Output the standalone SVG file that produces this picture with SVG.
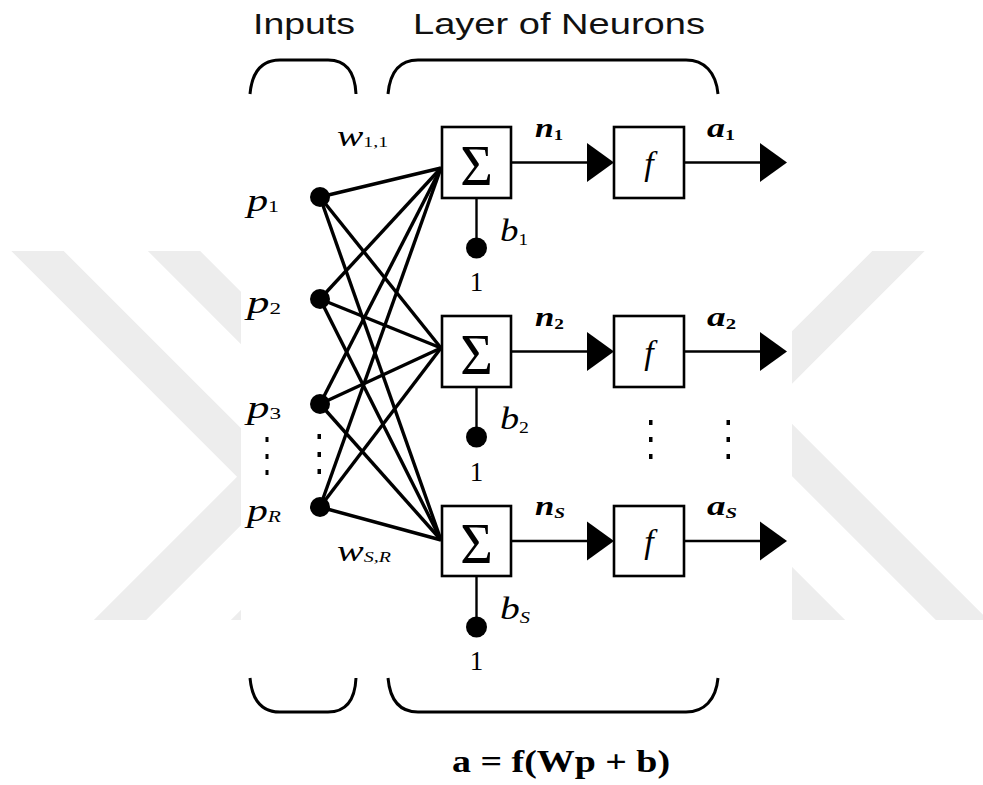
<svg xmlns="http://www.w3.org/2000/svg" width="983" height="785" viewBox="0 0 983 785">
<style>
.wm{stroke:#ededed;stroke-width:37;fill:none}
.box{fill:#fff;stroke:#000;stroke-width:2.6}
.br{fill:none;stroke:#000;stroke-width:3}
.w{stroke:#000;stroke-width:3.4;fill:none}
.ln{stroke:#000;stroke-width:2.4;fill:none}
.hd{font-family:"Liberation Sans",Arial,sans-serif;font-size:29px;fill:#111}
.it{font-family:"Liberation Serif","Times New Roman",serif;font-style:italic;fill:#000}
.bi{font-family:"Liberation Serif","Times New Roman",serif;font-style:italic;font-weight:bold;fill:#000}
.sg{font-family:"Liberation Serif","Times New Roman",serif;font-size:56px;fill:#000}
.one{font-family:"Liberation Serif","Times New Roman",serif;font-size:27px;fill:#000}
.fm{font-family:"Liberation Serif","Times New Roman",serif;font-weight:bold;font-size:31px;fill:#000}
</style>
<defs>
<clipPath id="wmclip"><rect x="0" y="251" width="983" height="369"/></clipPath>
<path id="ah" d="M0,-19.5 L27,0 L0,19.5 Z" fill="#000"/>
</defs>
<rect width="983" height="785" fill="#fff"/>
<g id="watermark" clip-path="url(#wmclip)">
<line class="wm" x1="-50" y1="163.5" x2="300" y2="513.5"/>
<line class="wm" x1="-50" y1="27" x2="300" y2="377"/>
<line class="wm" x1="0" y1="740" x2="300" y2="440"/>
<line class="wm" x1="0" y1="877" x2="300" y2="577"/>
<line class="wm" x1="700" y1="449.5" x2="1050" y2="99.5"/>
<line class="wm" x1="700" y1="358" x2="1050" y2="708"/>
<line class="wm" x1="700" y1="501" x2="1050" y2="851"/>
</g>
<rect x="241" y="230" width="551" height="400" fill="#fff"/>
<g id="headers">
<text class="hd" x="253" y="34" textLength="102" lengthAdjust="spacingAndGlyphs">Inputs</text>
<text class="hd" x="413" y="34" textLength="292" lengthAdjust="spacingAndGlyphs">Layer of Neurons</text>
<path class="br" d="M250,94 C252,72 262,60 280,60 L328,60 C346,60 355,72 356,94"/>
<path class="br" d="M388,94 C390,72 400,60 418,60 L686,60 C704,60 716,72 718,94"/>
<path class="br" d="M250,678 C252,700 262,712 280,712 L328,712 C346,712 355,700 356,678"/>
<path class="br" d="M388,678 C390,700 400,712 418,712 L686,712 C704,712 716,700 718,678"/>
</g>
<g id="connectors">
<line class="w" x1="320" y1="197" x2="441" y2="168"/>
<line class="w" x1="320" y1="197" x2="441" y2="348"/>
<line class="w" x1="320" y1="197" x2="441" y2="540"/>
<line class="w" x1="320" y1="299" x2="441" y2="168"/>
<line class="w" x1="320" y1="299" x2="441" y2="348"/>
<line class="w" x1="320" y1="299" x2="441" y2="540"/>
<line class="w" x1="320" y1="404" x2="441" y2="168"/>
<line class="w" x1="320" y1="404" x2="441" y2="348"/>
<line class="w" x1="320" y1="404" x2="441" y2="540"/>
<line class="w" x1="320" y1="507" x2="441" y2="168"/>
<line class="w" x1="320" y1="507" x2="441" y2="348"/>
<line class="w" x1="320" y1="507" x2="441" y2="540"/>
<line class="ln" x1="476.5" y1="198" x2="476.5" y2="248"/>
<line class="ln" x1="476.5" y1="387" x2="476.5" y2="437"/>
<line class="ln" x1="476.5" y1="576" x2="476.5" y2="627"/>
<line class="ln" x1="511" y1="162.5" x2="590" y2="162.5"/>
<line class="ln" x1="511" y1="351.5" x2="590" y2="351.5"/>
<line class="ln" x1="511" y1="541" x2="590" y2="541"/>
<use href="#ah" x="587" y="162.5"/>
<use href="#ah" x="587" y="351.5"/>
<use href="#ah" x="587" y="541"/>
<line class="ln" x1="684" y1="162.5" x2="762" y2="162.5"/>
<line class="ln" x1="684" y1="351.5" x2="762" y2="351.5"/>
<line class="ln" x1="684" y1="541" x2="762" y2="541"/>
<use href="#ah" x="760" y="162.5"/>
<use href="#ah" x="760" y="351.5"/>
<use href="#ah" x="760" y="541"/>
</g>
<g id="inputs">
<circle cx="320" cy="197" r="10"/>
<circle cx="320" cy="299" r="10"/>
<circle cx="320" cy="404" r="10"/>
<circle cx="320" cy="507" r="10"/>
<text class="it" x="247" y="211" font-size="31" textLength="32" lengthAdjust="spacingAndGlyphs">p<tspan font-size="16" dy="1" font-style="normal">1</tspan></text>
<text class="it" x="247" y="313" font-size="31" textLength="34" lengthAdjust="spacingAndGlyphs">p<tspan font-size="16" dy="1" font-style="normal">2</tspan></text>
<text class="it" x="247" y="418" font-size="31" textLength="34" lengthAdjust="spacingAndGlyphs">p<tspan font-size="16" dy="1" font-style="normal">3</tspan></text>
<text class="it" x="247" y="521" font-size="31" textLength="34" lengthAdjust="spacingAndGlyphs">p<tspan font-size="16" dy="1">R</tspan></text>
<g fill="#000">
<rect x="265.5" y="437" width="3" height="5"/><rect x="265.5" y="454" width="3" height="5"/><rect x="265.5" y="470" width="3" height="5"/>
<rect x="317.5" y="434" width="3.5" height="5"/><rect x="317.5" y="452" width="3.5" height="5"/><rect x="317.5" y="469" width="3.5" height="5"/>
</g>
<text class="it" x="337" y="146" font-size="30" textLength="51" lengthAdjust="spacingAndGlyphs">w<tspan font-size="15" dy="1" font-style="normal">1,1</tspan></text>
<text class="it" x="337" y="561" font-size="30" textLength="54" lengthAdjust="spacingAndGlyphs">w<tspan font-size="15" dy="1">S,R</tspan></text>
</g>
<g id="neuron1">
<rect class="box" x="442" y="127" width="69" height="71"/>
<text class="sg" x="476.5" y="185" text-anchor="middle">Σ</text>
<circle cx="476.5" cy="248" r="10.5"/>
<text class="one" x="476.5" y="291" text-anchor="middle">1</text>
<text class="it" x="500" y="241" font-size="31" textLength="28" lengthAdjust="spacingAndGlyphs">b<tspan font-size="16" dy="4" font-style="normal">1</tspan></text>
<text class="bi" x="535" y="137" font-size="27" textLength="28" lengthAdjust="spacingAndGlyphs">n<tspan font-size="15" dy="3" font-style="normal">1</tspan></text>
<rect class="box" x="614" y="127" width="70" height="71"/>
<text class="it" x="649" y="175" font-size="34" text-anchor="middle">f</text>
<text class="bi" x="707" y="137" font-size="27" textLength="28" lengthAdjust="spacingAndGlyphs">a<tspan font-size="15" dy="3" font-style="normal">1</tspan></text>
</g>
<g id="neuron2">
<rect class="box" x="442" y="316" width="69" height="71"/>
<text class="sg" x="476.5" y="374" text-anchor="middle">Σ</text>
<circle cx="476.5" cy="437" r="10.5"/>
<text class="one" x="476.5" y="481" text-anchor="middle">1</text>
<text class="it" x="500" y="429" font-size="31" textLength="29" lengthAdjust="spacingAndGlyphs">b<tspan font-size="16" dy="4" font-style="normal">2</tspan></text>
<text class="bi" x="535" y="326" font-size="27" textLength="29" lengthAdjust="spacingAndGlyphs">n<tspan font-size="15" dy="3" font-style="normal">2</tspan></text>
<rect class="box" x="614" y="316" width="70" height="71"/>
<text class="it" x="649" y="364" font-size="34" text-anchor="middle">f</text>
<text class="bi" x="707" y="326" font-size="27" textLength="29" lengthAdjust="spacingAndGlyphs">a<tspan font-size="15" dy="3" font-style="normal">2</tspan></text>
<g fill="#000">
<rect x="649" y="420" width="3.5" height="5"/><rect x="649" y="437" width="3.5" height="5"/><rect x="649" y="454" width="3.5" height="5"/>
<rect x="726.5" y="420" width="3.5" height="5"/><rect x="726.5" y="437" width="3.5" height="5"/><rect x="726.5" y="454" width="3.5" height="5"/>
</g>
</g>
<g id="neuron3">
<rect class="box" x="442" y="506" width="69" height="70"/>
<text class="sg" x="476.5" y="563" text-anchor="middle">Σ</text>
<circle cx="476.5" cy="627" r="10.5"/>
<text class="one" x="476.5" y="670" text-anchor="middle">1</text>
<text class="it" x="500" y="619" font-size="31" textLength="30" lengthAdjust="spacingAndGlyphs">b<tspan font-size="16" dy="4">S</tspan></text>
<text class="bi" x="535" y="515" font-size="27" textLength="30" lengthAdjust="spacingAndGlyphs">n<tspan font-size="15" dy="3">S</tspan></text>
<rect class="box" x="614" y="506" width="70" height="70"/>
<text class="it" x="649" y="553" font-size="34" text-anchor="middle">f</text>
<text class="bi" x="707" y="515" font-size="27" textLength="30" lengthAdjust="spacingAndGlyphs">a<tspan font-size="15" dy="3">S</tspan></text>
</g>
<g id="formula">
<text class="fm" x="452" y="772" textLength="218" lengthAdjust="spacingAndGlyphs">a = f(Wp + b)</text>
</g>
</svg>
